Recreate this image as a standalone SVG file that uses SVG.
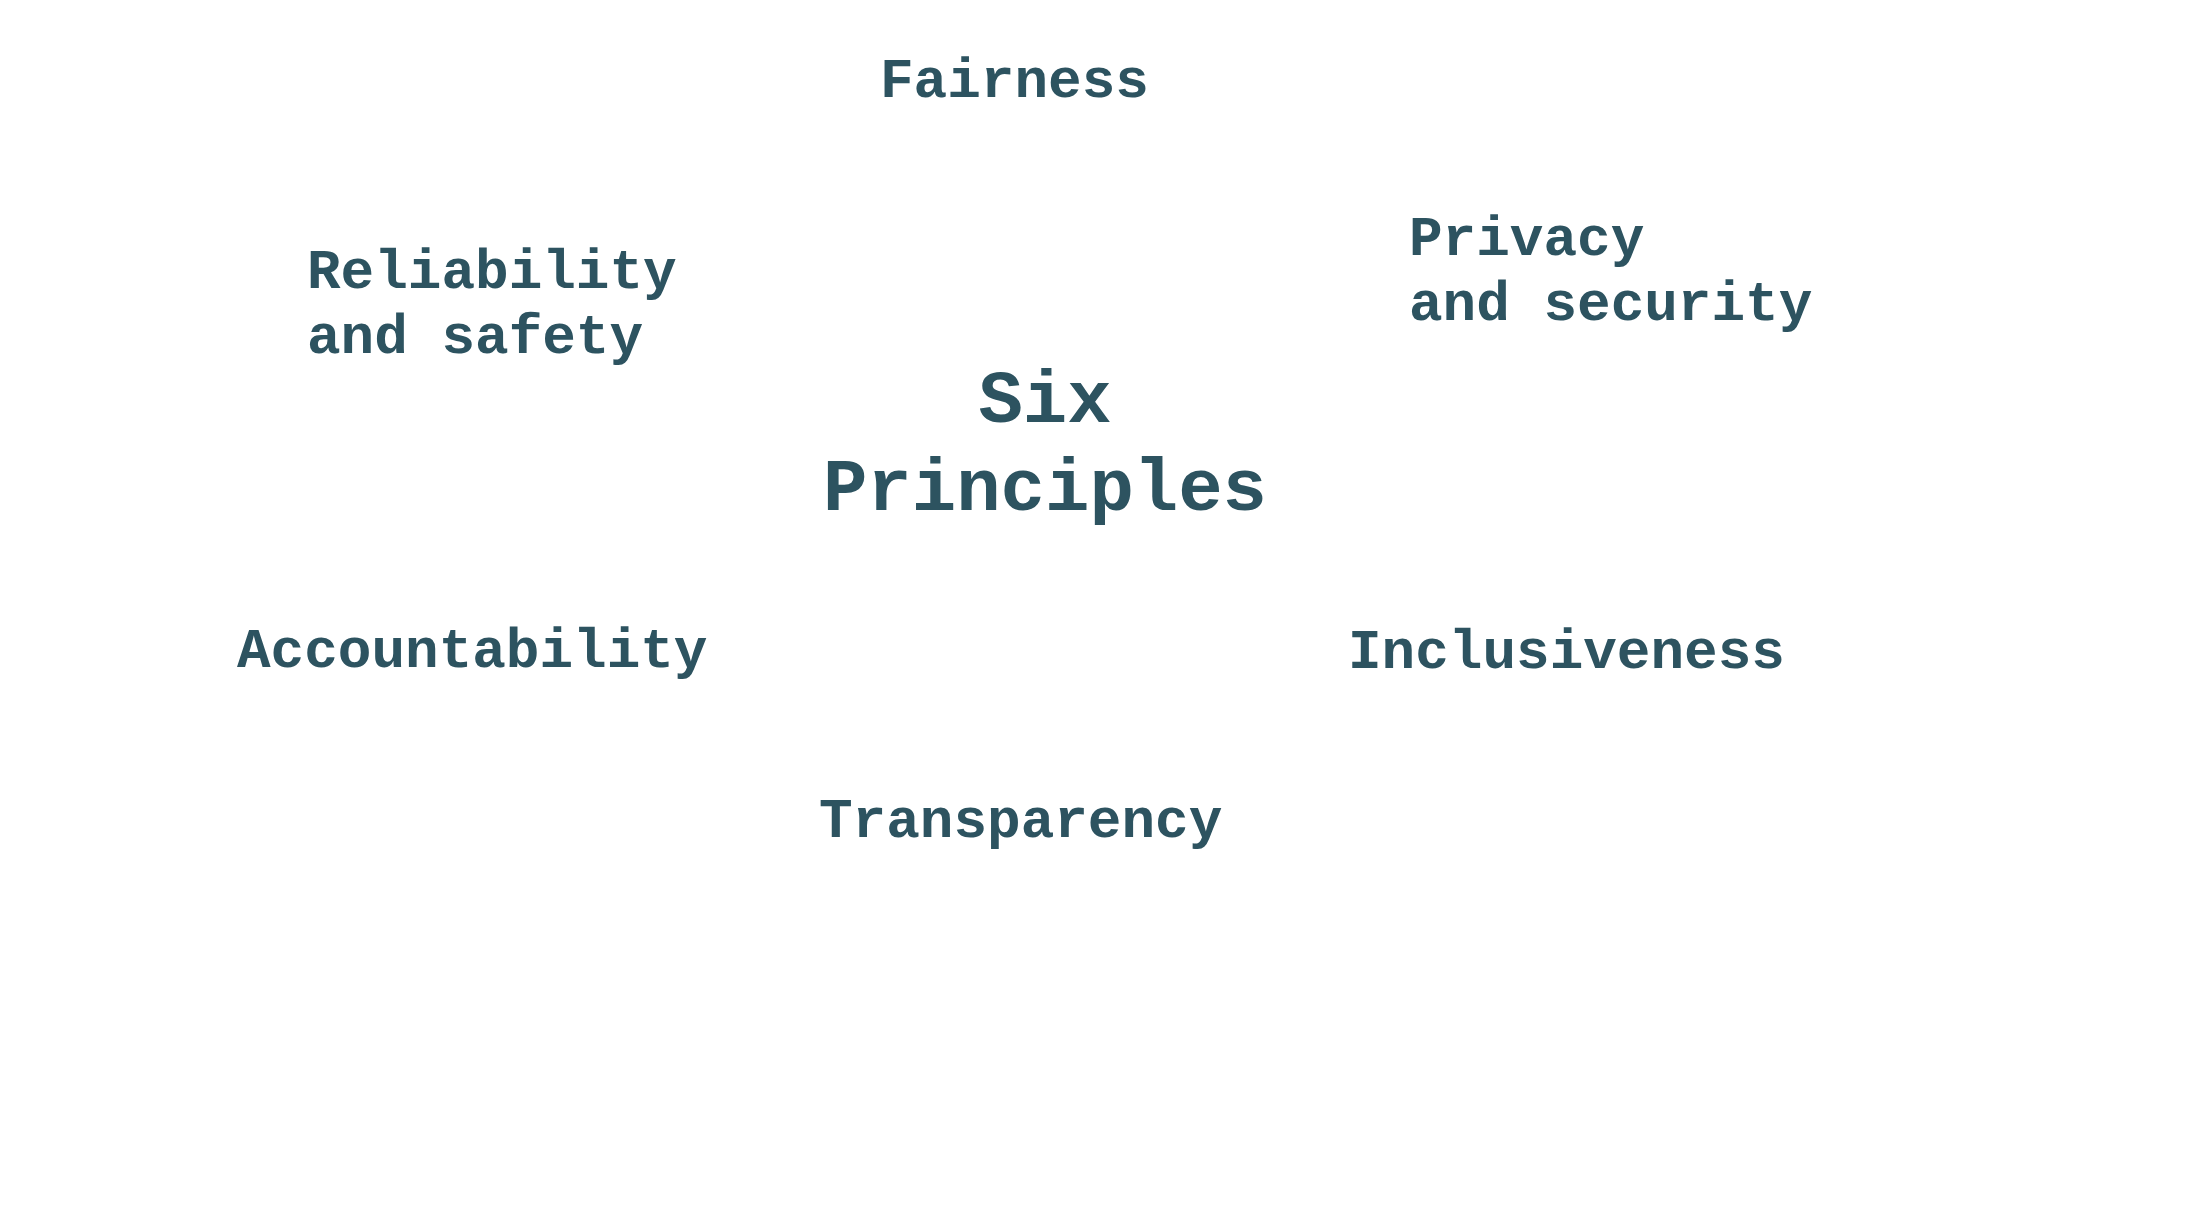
<svg xmlns="http://www.w3.org/2000/svg" width="2202" height="1220" viewBox="0 0 2202 1220">
<style>
.t{font-family:"Liberation Mono","Courier New",monospace;font-weight:bold;fill:#2d5360;font-size:56px}
.c{font-size:74px}
</style>
<rect width="2202" height="1220" fill="#ffffff"/>
<g id="center"><text class="t c" x="1045" y="422" text-anchor="middle">Six</text><text class="t c" x="1045" y="510" text-anchor="middle">Principles</text></g>
<g id="fairness"><text class="t" x="880" y="97">Fairness</text></g>
<g id="reliability"><text class="t" x="307" y="288">Reliability</text><text class="t" x="307" y="353">and safety</text></g>
<g id="privacy"><text class="t" x="1409" y="255">Privacy</text><text class="t" x="1409" y="320">and security</text></g>
<g id="accountability"><text class="t" x="237" y="667">Accountability</text></g>
<g id="inclusiveness"><text class="t" x="1348" y="668">Inclusiveness</text></g>
<g id="transparency"><text class="t" x="819" y="837">Transparency</text></g>
<g id="connectors"></g>
</svg>
